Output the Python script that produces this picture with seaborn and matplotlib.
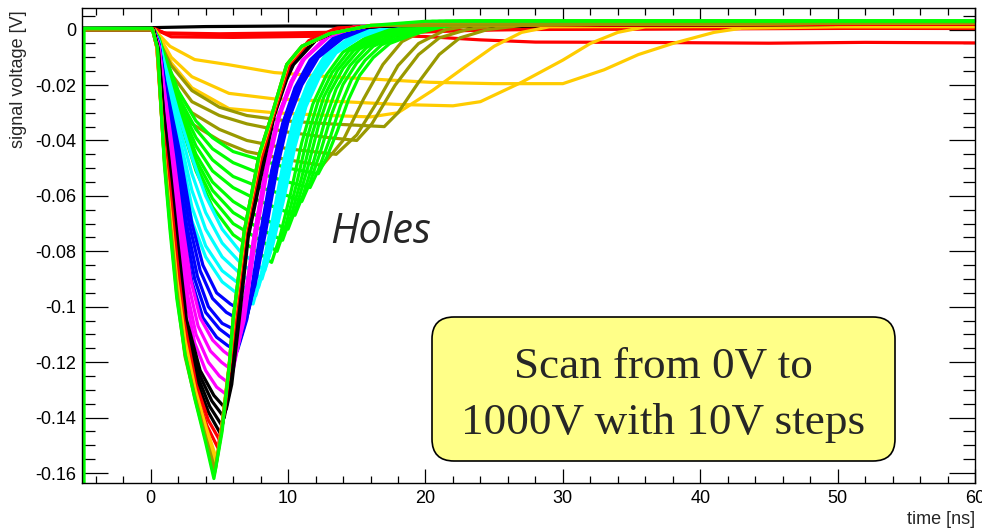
import matplotlib
matplotlib.use("Agg")
import matplotlib.pyplot as plt
import pandas as pd
import seaborn as sns
from matplotlib.patches import FancyBboxPatch
from matplotlib.transforms import IdentityTransform
from matplotlib.ticker import MultipleLocator, FuncFormatter

# ---- waveform vertices (time [ns], signal voltage [V]) per colour group ----
black_zero = [
    [(-5, 0.0006), (0, 0.0007), (4, 0.0011), (10, 0.0013), (20, 0.0012), (30, 0.001), (45, 0.0012), (60, 0.001)],
]
red_low = [
    [(-5, 0.0003), (0.3, 0.0003), (1.0, -0.0012), (5, -0.0015), (10, -0.0012), (15, -0.0008), (20, -0.0004), (30, 0.0002), (45, 0.0005), (60, 0.0004)],
    [(-5, 0.0), (0.3, 0.0), (1.2, -0.0015), (4, -0.0018), (8, -0.002), (12, -0.0018), (16, -0.002), (20, -0.0025), (24, -0.0037), (28, -0.0045), (35, -0.0046), (45, -0.0049), (52, -0.0046), (60, -0.0048)],
    [(-5, 0.0002), (0.3, 0.0002), (1.5, -0.0026), (6, -0.0028), (12, -0.0024), (18, -0.0012), (25, 0.0), (60, 0.0006)],
]
gold_low = [
    [(-5, 0), (0.3, 0), (0.6, -0.0018), (1.4, -0.006), (3.2, -0.0108), (5.6, -0.0126), (9, -0.0155), (13, -0.017), (16.7, -0.018), (20.3, -0.019), (25, -0.0195), (30, -0.0195), (33, -0.0145), (35.5, -0.009), (38, -0.005), (41, -0.001), (43, 0.0005), (50, 0.001), (60, 0.001)],
    [(-5, 0), (0.3, 0), (0.8, -0.004), (1.5, -0.010), (3, -0.017), (5.7, -0.023), (9, -0.025), (14, -0.026), (18, -0.027), (22, -0.0275), (24, -0.026), (27, -0.019), (30, -0.011), (32, -0.005), (34, -0.001), (36, 0.001), (60, 0.0015)],
    [(-5, 0), (0.3, 0), (0.8, -0.005), (1.5, -0.012), (3, -0.021), (5.7, -0.0285), (9, -0.030), (13, -0.031), (16, -0.0315), (18, -0.030), (20.5, -0.022), (23, -0.013), (25, -0.006), (27, -0.001), (29, 0.001), (60, 0.0015)],
]
olive_low = [
    [(-5, 0), (0.25, 0), (0.7, -0.005), (1.5, -0.013), (3, -0.022), (5, -0.028), (7, -0.031), (10, -0.033), (13, -0.034), (17, -0.035), (18, -0.030), (19.5, -0.019), (21, -0.009), (22.5, -0.003), (24.5, 0), (27, 0.0015), (60, 0.002)],
    [(-5, 0), (0.25, 0), (0.7, -0.006), (1.5, -0.016), (3, -0.026), (5, -0.031), (7, -0.034), (10, -0.037), (13, -0.039), (15, -0.040), (16.1, -0.034), (17.8, -0.020), (19.5, -0.009), (21, -0.003), (23, 0), (25, 0.0015), (60, 0.002)],
    [(-5, 0), (0.25, 0), (0.7, -0.007), (1.5, -0.019), (3, -0.030), (5, -0.036), (7, -0.040), (10, -0.043), (13.5, -0.045), (15, -0.038), (16.5, -0.026), (18, -0.013), (19.5, -0.005), (21.5, 0), (24, 0.002), (60, 0.002)],
    [(-5, 0), (0.25, 0), (0.7, -0.008), (1.5, -0.022), (3, -0.034), (5, -0.040), (7, -0.044), (10, -0.047), (12.5, -0.049), (14, -0.040), (15.5, -0.025), (16.9, -0.0126), (18.3, -0.0043), (20, 0), (23, 0.002), (60, 0.002)],
]
green_low = [
    [(-5, 0), (0.2, 0), (0.6, -0.003), (1.0, -0.009), (2, -0.022), (3.3, -0.033), (4.5, -0.039), (6, -0.044), (8, -0.047), (10, -0.050), (12.2, -0.052), (12.8, -0.0463), (13.6, -0.0364), (14.4, -0.0252), (15.2, -0.0166), (16.2, -0.0101), (17.4, -0.005), (19.2, -0.0016), (21.2, 0.001), (24, 0.003), (60, 0.003)],
    [(-5, 0), (0.2, 0), (0.6, -0.0032), (1.0, -0.0095), (2, -0.024), (3.3, -0.036), (4.5, -0.043), (6, -0.048), (8, -0.052), (10, -0.055), (11.6, -0.057), (12.2, -0.0507), (13.0, -0.0399), (13.8, -0.0276), (14.6, -0.0182), (15.6, -0.0111), (16.8, -0.0055), (18.6, -0.0017), (20.6, 0.001), (23.5, 0.003), (60, 0.003)],
    [(-5, 0), (0.2, 0), (0.6, -0.0034), (1.0, -0.010), (2, -0.026), (3.3, -0.039), (4.5, -0.047), (6, -0.053), (8, -0.057), (10, -0.060), (11.0, -0.062), (11.6, -0.0552), (12.4, -0.0434), (13.2, -0.0301), (14.0, -0.0198), (15.0, -0.012), (16.2, -0.006), (18.0, -0.0019), (20.0, 0.001), (23, 0.003), (60, 0.003)],
    [(-5, 0), (0.2, 0), (0.6, -0.0036), (1.0, -0.0105), (2, -0.027), (3.3, -0.042), (4.5, -0.051), (6, -0.057), (8, -0.062), (10, -0.066), (10.5, -0.067), (11.1, -0.0596), (11.9, -0.0469), (12.7, -0.0325), (13.5, -0.0214), (14.5, -0.013), (15.7, -0.0065), (17.5, -0.002), (19.5, 0.001), (22.5, 0.003), (60, 0.003)],
    [(-5, 0), (0.2, 0), (0.6, -0.0038), (1.0, -0.011), (2, -0.028), (3.3, -0.045), (4.5, -0.055), (6, -0.062), (8, -0.068), (10, -0.072), (10.6, -0.0641), (11.4, -0.0504), (12.2, -0.0349), (13.0, -0.023), (14.0, -0.014), (15.2, -0.007), (17.0, -0.0022), (19.0, 0.001), (22, 0.003), (60, 0.003)],
    [(-5, 0), (0.2, 0), (0.6, -0.004), (1.0, -0.0115), (2, -0.029), (3.3, -0.047), (4.5, -0.058), (6, -0.066), (8, -0.072), (9.6, -0.076), (10.2, -0.0676), (11.0, -0.0532), (11.8, -0.0369), (12.6, -0.0243), (13.6, -0.0147), (14.8, -0.0074), (16.6, -0.0023), (18.6, 0.001), (21.5, 0.003), (60, 0.003)],
    [(-5, 0), (0.2, 0), (0.6, -0.0042), (1.0, -0.012), (2, -0.030), (3.3, -0.049), (4.5, -0.061), (6, -0.070), (8, -0.076), (9.2, -0.080), (9.8, -0.0712), (10.6, -0.056), (11.4, -0.0388), (12.2, -0.0256), (13.2, -0.0155), (14.4, -0.0078), (16.2, -0.0024), (18.2, 0.001), (21, 0.003), (60, 0.003)],
    [(-5, 0), (0.2, 0), (0.6, -0.0044), (1.0, -0.0125), (2, -0.031), (3.3, -0.051), (4.5, -0.064), (6, -0.074), (8, -0.081), (8.8, -0.084), (9.4, -0.0748), (10.2, -0.0588), (11.0, -0.0407), (11.8, -0.0269), (12.8, -0.0163), (14.0, -0.0081), (15.8, -0.0025), (17.8, 0.001), (20.5, 0.003), (60, 0.003)],
]
cyan_mid = [
    [(-5, 0), (0.2, 0), (0.6, -0.004), (1.0, -0.012), (2.0, -0.030), (3.0, -0.046), (4.0, -0.060), (5.2, -0.072), (6.5, -0.080), (8.3, -0.087), (8.9, -0.0774), (9.7, -0.0609), (10.5, -0.0422), (11.3, -0.0278), (12.3, -0.0169), (13.5, -0.0084), (15.3, -0.0026), (17.3, 0.001), (20, 0.0025), (60, 0.0025)],
    [(-5, 0), (0.2, 0), (0.6, -0.0045), (1.0, -0.0135), (2.0, -0.0335), (3.0, -0.052), (4.0, -0.066), (5.2, -0.077), (6.5, -0.084), (8.1, -0.090), (8.7, -0.080), (9.5, -0.063), (10.3, -0.0437), (11.1, -0.0288), (12.1, -0.0175), (13.3, -0.0087), (15.1, -0.0027), (17.1, 0.001), (19.8, 0.0025), (60, 0.0025)],
    [(-5, 0), (0.2, 0), (0.6, -0.005), (1.0, -0.015), (2.0, -0.037), (3.0, -0.058), (4.0, -0.072), (5.2, -0.082), (6.5, -0.088), (7.85, -0.093), (8.45, -0.0828), (9.25, -0.0651), (10.05, -0.0451), (10.85, -0.0298), (11.85, -0.018), (13.05, -0.009), (14.85, -0.0028), (16.85, 0.001), (19.5, 0.0025), (60, 0.0025)],
    [(-5, 0), (0.2, 0), (0.6, -0.0052), (1.0, -0.0165), (2.0, -0.040), (3.0, -0.064), (4.0, -0.078), (5.2, -0.087), (6.5, -0.092), (7.65, -0.096), (8.25, -0.0854), (9.05, -0.0672), (9.85, -0.0466), (10.65, -0.0307), (11.65, -0.0186), (12.85, -0.0093), (14.65, -0.0029), (16.65, 0.001), (19.3, 0.0025), (60, 0.0025)],
    [(-5, 0), (0.2, 0), (0.6, -0.0055), (1.0, -0.018), (2.0, -0.043), (3.0, -0.069), (4.0, -0.082), (5.2, -0.091), (6.5, -0.096), (7.45, -0.099), (8.05, -0.088), (8.85, -0.069), (9.65, -0.048), (10.45, -0.0317), (11.45, -0.0192), (12.65, -0.0096), (14.45, -0.003), (16.5, 0.001), (19, 0.0025), (60, 0.0025)],
]
blue_mid = [
    [(-5, 0), (0.2, 0), (0.6, -0.005), (1.0, -0.018), (2.1, -0.044), (3.0, -0.07), (3.8, -0.085), (4.8, -0.095), (5.8, -0.099), (6.5, -0.101), (7.0, -0.103), (7.6, -0.092), (8.4, -0.072), (9.2, -0.050), (10.0, -0.033), (11.0, -0.020), (12.2, -0.010), (14, -0.003), (16, 0.001), (20, 0.002), (60, 0.002)],
    [(-5, 0), (0.2, 0), (0.6, -0.0053), (1.0, -0.019), (1.95, -0.044), (2.8, -0.07), (3.6, -0.087), (4.5, -0.097), (5.5, -0.102), (6.2, -0.104), (6.8, -0.106), (7.4, -0.095), (8.25, -0.073), (9.05, -0.0505), (9.85, -0.0335), (10.8, -0.0205), (12.0, -0.0105), (13.8, -0.003), (15.8, 0.001), (20, 0.002), (60, 0.002)],
    [(-5, 0), (0.2, 0), (0.6, -0.0056), (1.0, -0.02), (1.8, -0.044), (2.6, -0.07), (3.4, -0.089), (4.2, -0.1), (5.2, -0.106), (6.0, -0.108), (6.6, -0.110), (7.25, -0.099), (8.1, -0.0745), (8.95, -0.0505), (9.75, -0.0335), (10.7, -0.0205), (11.85, -0.0105), (13.6, -0.003), (15.7, 0.001), (20, 0.002), (60, 0.002)],
    [(-5, 0), (0.2, 0), (0.6, -0.0058), (1.0, -0.0205), (1.7, -0.044), (2.45, -0.07), (3.2, -0.09), (4.0, -0.102), (5.0, -0.108), (5.8, -0.111), (6.45, -0.113), (7.1, -0.102), (8.0, -0.0752), (8.85, -0.0508), (9.65, -0.0338), (10.6, -0.0208), (11.7, -0.0108), (13.45, -0.003), (15.6, 0.001), (20, 0.002), (60, 0.002)],
    [(-5, 0), (0.2, 0), (0.6, -0.006), (1.0, -0.021), (1.6, -0.043), (2.3, -0.07), (3.0, -0.091), (3.8, -0.104), (4.8, -0.111), (5.6, -0.114), (6.3, -0.116), (7.0, -0.1045), (7.9, -0.076), (8.8, -0.051), (9.6, -0.034), (10.5, -0.021), (11.6, -0.011), (13.3, -0.003), (15.5, 0.001), (20, 0.002), (60, 0.002)],
]
magenta_mid = [
    [(-5, 0), (0.2, 0), (0.6, -0.006), (1.0, -0.022), (1.65, -0.045), (2.3, -0.07), (2.9, -0.09), (3.6, -0.104), (4.5, -0.112), (5.3, -0.116), (6.1, -0.119), (6.8, -0.105), (7.65, -0.075), (8.55, -0.049), (9.4, -0.031), (10.3, -0.019), (11.2, -0.0105), (13, -0.0025), (15, 0.001), (20, 0.002), (60, 0.002)],
    [(-5, 0), (0.2, 0), (0.6, -0.0062), (1.0, -0.023), (1.6, -0.046), (2.2, -0.072), (2.8, -0.093), (3.45, -0.107), (4.35, -0.116), (5.15, -0.12), (5.95, -0.123), (6.65, -0.107), (7.55, -0.075), (8.5, -0.049), (9.35, -0.031), (10.25, -0.019), (11.1, -0.011), (12.9, -0.0025), (14.9, 0.001), (20, 0.002), (60, 0.002)],
    [(-5, 0), (0.2, 0), (0.6, -0.0063), (1.0, -0.024), (1.55, -0.047), (2.1, -0.074), (2.7, -0.096), (3.3, -0.11), (4.2, -0.12), (5.0, -0.125), (5.8, -0.128), (6.45, -0.11), (7.5, -0.075), (8.45, -0.049), (9.3, -0.031), (10.2, -0.019), (11.05, -0.011), (12.85, -0.0025), (14.85, 0.001), (20, 0.002), (60, 0.002)],
    [(-5, 0), (0.2, 0), (0.6, -0.0065), (1.0, -0.025), (1.5, -0.048), (2.0, -0.075), (2.6, -0.098), (3.2, -0.113), (4.0, -0.123), (4.8, -0.129), (5.6, -0.132), (6.2, -0.118), (6.75, -0.1045), (7.5, -0.075), (8.4, -0.049), (9.3, -0.031), (10.2, -0.019), (11.0, -0.0115), (12.8, -0.0025), (14.8, 0.001), (20, 0.002), (60, 0.002)],
]
black_high = [
    [(-5, 0), (0.2, 0), (0.55, -0.007), (0.95, -0.03), (1.45, -0.052), (2.0, -0.078), (2.6, -0.1045), (3.6, -0.123), (4.6, -0.132), (5.5, -0.137), (5.9, -0.128), (6.45, -0.1045), (7.1, -0.075), (8.2, -0.049), (9.0, -0.031), (9.9, -0.018), (10.4, -0.0126), (12, -0.004), (14, 0.0005), (18, 0.0015), (60, 0.002)],
    [(-5, 0), (0.2, 0), (0.55, -0.007), (0.95, -0.031), (1.42, -0.053), (1.95, -0.079), (2.5, -0.1045), (3.5, -0.124), (4.45, -0.134), (5.35, -0.14), (5.75, -0.13), (6.38, -0.1045), (7.05, -0.0745), (8.15, -0.0487), (8.95, -0.031), (9.85, -0.018), (10.35, -0.0126), (11.95, -0.004), (13.95, 0.0005), (18, 0.0015), (60, 0.002)],
    [(-5, 0), (0.2, 0), (0.5, -0.007), (0.92, -0.032), (1.38, -0.054), (1.92, -0.08), (2.45, -0.1045), (3.4, -0.125), (4.3, -0.136), (5.2, -0.143), (5.6, -0.132), (6.3, -0.1045), (7.0, -0.074), (8.1, -0.0485), (8.92, -0.031), (9.82, -0.018), (10.3, -0.0126), (11.9, -0.004), (13.9, 0.0005), (18, 0.0015), (60, 0.002)],
    [(-5, 0), (0.2, 0), (0.5, -0.007), (0.9, -0.033), (1.35, -0.055), (1.9, -0.081), (2.4, -0.1045), (3.3, -0.126), (4.2, -0.138), (5.1, -0.146), (5.5, -0.135), (6.22, -0.1045), (6.95, -0.0735), (8.05, -0.048), (8.88, -0.031), (9.78, -0.018), (10.25, -0.0126), (11.85, -0.004), (13.85, 0.0005), (18, 0.0015), (60, 0.002)],
]
red_high = [
    [(-5, 0), (0.15, 0), (0.45, -0.0065), (0.9, -0.036), (1.35, -0.055), (1.9, -0.082), (2.4, -0.1045), (3.3, -0.128), (4.2, -0.141), (5.0, -0.148), (5.4, -0.137), (6.15, -0.1045), (6.9, -0.0735), (8.0, -0.0475), (8.9, -0.0315), (10.1, -0.0126), (11.6, -0.004), (13.6, 0.0005), (17, 0.0015), (60, 0.002)],
    [(-5, 0), (0.15, 0), (0.45, -0.0065), (0.9, -0.038), (1.35, -0.058), (1.9, -0.085), (2.35, -0.1045), (3.25, -0.13), (4.1, -0.143), (4.9, -0.151), (5.3, -0.139), (6.1, -0.1045), (6.88, -0.0735), (7.98, -0.0472), (8.88, -0.0313), (10.05, -0.0126), (11.5, -0.004), (13.5, 0.0005), (17, 0.0015), (60, 0.002)],
]
gold_high = [
    [(-5, 0), (0.15, 0), (0.45, -0.0065), (0.95, -0.043), (1.4, -0.065), (1.9, -0.09), (2.5, -0.112), (3.25, -0.13), (4.0, -0.143), (4.8, -0.155), (5.2, -0.143), (5.75, -0.12), (6.05, -0.1045), (6.85, -0.073), (7.95, -0.0455), (8.85, -0.031), (9.95, -0.0126), (11.1, -0.006), (13, -0.0015), (16, 0.0015), (60, 0.0025)],
    [(-5, 0), (0.15, 0), (0.45, -0.0065), (0.97, -0.045), (1.4, -0.067), (1.9, -0.092), (2.5, -0.115), (3.25, -0.132), (4.0, -0.145), (4.75, -0.157), (5.15, -0.144), (5.7, -0.121), (6.02, -0.1045), (6.83, -0.073), (7.93, -0.0453), (8.83, -0.031), (9.93, -0.0126), (11.05, -0.006), (13, -0.0015), (16, 0.0015), (60, 0.0025)],
]
olive_high = [
    [(-5, 0), (0.12, 0), (0.47, -0.0065), (0.98, -0.046), (1.4, -0.069), (1.9, -0.094), (2.5, -0.117), (3.2, -0.132), (4.0, -0.147), (4.7, -0.159), (5.15, -0.145), (5.7, -0.122), (6.0, -0.1045), (6.8, -0.073), (7.9, -0.045), (8.8, -0.031), (9.9, -0.0126), (11, -0.006), (13, -0.0015), (16, 0.0015), (60, 0.0025)],
    [(-5, 0), (0.12, 0), (0.48, -0.0065), (0.99, -0.047), (1.4, -0.07), (1.9, -0.0955), (2.5, -0.118), (3.2, -0.1325), (4.0, -0.148), (4.65, -0.160), (5.15, -0.145), (5.7, -0.122), (6.0, -0.1045), (6.8, -0.073), (7.9, -0.045), (8.8, -0.031), (9.9, -0.0126), (11, -0.006), (13, -0.0015), (16, 0.0015), (60, 0.0025)],
]
green_final = [
    [(-4.85, -0.17), (-4.85, 0.0005), (0.1, 0.0005), (0.5, -0.0065), (1.0, -0.049), (1.4, -0.072), (1.9, -0.097), (2.5, -0.117), (3.2, -0.133), (4.0, -0.149), (4.6, -0.162), (5.2, -0.145), (5.7, -0.122), (6.0, -0.1045), (6.8, -0.073), (7.9, -0.045), (8.8, -0.031), (9.9, -0.0126), (11, -0.006), (13, -0.0015), (16, 0.0015), (20, 0.003), (60, 0.003)],
]

# drawing order: low bias first, highest bias last (on top)
group_order = [
    ("#000000", black_zero), ("#ff0000", red_low), ("#ffcc00", gold_low),
    ("#999900", olive_low), ("#00ff00", green_low), ("#00ffff", cyan_mid),
    ("#0000ff", blue_mid), ("#ff00ff", magenta_mid), ("#000000", black_high),
    ("#ff0000", red_high), ("#ffcc00", gold_high), ("#999900", olive_high),
    ("#00ff00", green_final),
]

rows, palette, hue_order = [], {}, []
n = 0
for color, curves in group_order:
    for curve in curves:
        key = f"w{n:03d}"
        n += 1
        palette[key] = color
        hue_order.append(key)
        for t, v in curve:
            rows.append({"wave": key, "time": t, "voltage": v})
df = pd.DataFrame(rows)

sns.set_theme(style="white")
plt.rcParams["font.family"] = ["Liberation Sans", "DejaVu Sans"]
plt.rcParams["axes.unicode_minus"] = False

W, H = 982, 528
fig = plt.figure(figsize=(W / 100, H / 100), dpi=100)
fig.patch.set_facecolor("white")
ax = fig.add_axes([82 / W, (H - 483) / H, (975 - 82) / W, (483 - 8) / H])

sns.lineplot(data=df, x="time", y="voltage", hue="wave", hue_order=hue_order,
             palette=palette, estimator=None, sort=False, lw=2.3,
             legend=False, ax=ax)

ax.set_xlim(-5, 60)
ax.set_ylim(-0.1636, 0.0078)
ax.set_xlabel("")
ax.set_ylabel("")
ax.set_facecolor("white")
for sp in ax.spines.values():
    sp.set_color("black")
    sp.set_linewidth(1.0)

ax.xaxis.set_major_locator(MultipleLocator(10))
ax.xaxis.set_minor_locator(MultipleLocator(2))
ax.yaxis.set_major_locator(MultipleLocator(0.02))
ax.yaxis.set_minor_locator(MultipleLocator(0.005))
ax.xaxis.set_major_formatter(FuncFormatter(lambda v, p: f"{v:g}"))
ax.yaxis.set_major_formatter(FuncFormatter(lambda v, p: "0" if abs(v) < 1e-9 else f"{v:g}"))

ax.tick_params(axis="both", which="both", direction="in", top=True, right=True,
               bottom=True, left=True, colors="black", width=0.9, labelsize=13)
ax.tick_params(axis="x", which="major", length=10, pad=5)
ax.tick_params(axis="x", which="minor", length=5)
ax.tick_params(axis="y", which="major", length=19, pad=4)
ax.tick_params(axis="y", which="minor", length=9)

fig.text(19 / W, 1 - 10 / H, "signal voltage [V]", rotation=90, ha="center",
         va="top", fontsize=13)
fig.text(975 / W, 1 - 524 / H, "time [ns]", ha="right", va="baseline", fontsize=13)

fig.text(330 / W, 1 - 243 / H, "Holes", ha="left", va="baseline", fontsize=30,
         fontstyle="italic", family=["Open Sans", "DejaVu Sans"])

box = FancyBboxPatch((432, H - 461), 895 - 432, 461 - 317,
                     boxstyle="round,pad=0,rounding_size=22",
                     transform=IdentityTransform(), facecolor="#ffff88",
                     edgecolor="black", linewidth=1.2, zorder=5)
fig.add_artist(box)
serif = ["Liberation Serif", "DejaVu Serif"]
fig.text(663 / W, 1 - 378 / H, "Scan from 0V to", ha="center", va="baseline",
         fontsize=32.5, family=serif, zorder=6)
fig.text(663 / W, 1 - 434 / H, "1000V with 10V steps", ha="center", va="baseline",
         fontsize=32.5, family=serif, zorder=6)

fig.savefig("out.png", dpi=100, facecolor="white")
